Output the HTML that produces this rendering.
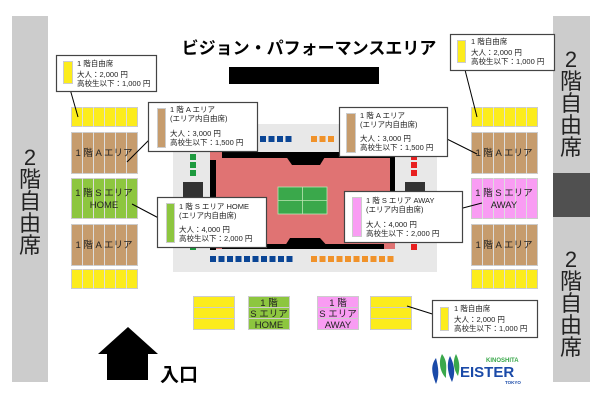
<!DOCTYPE html>
<html><head><meta charset="utf-8"><style>
html,body{margin:0;padding:0;background:#fff;width:600px;height:400px;overflow:hidden}
svg{display:block}
text{font-family:"Liberation Sans","Noto Sans CJK JP",sans-serif}
</style></head><body>
<svg width="600" height="400" viewBox="0 0 600 400" xmlns="http://www.w3.org/2000/svg" overflow="hidden">
<defs>
<g id="cols"><path d="M11 0V182M22 0V182M33 0V182M44 0V182M55 0V182" stroke="#ddd" stroke-width="1"/></g>
</defs>
<rect x="12" y="16" width="36" height="366" fill="#cccccc"/>
<rect x="553" y="16" width="37" height="366" fill="#cccccc"/>
<rect x="553" y="173" width="37" height="44" fill="#505050"/>
<g font-size="22" text-anchor="middle" fill="#222">
<text x="30" y="165">2</text><text x="30" y="187">階</text><text x="30" y="209">自</text><text x="30" y="231">由</text><text x="30" y="253">席</text>
<text x="571" y="67">2</text><text x="571" y="89">階</text><text x="571" y="111">自</text><text x="571" y="133">由</text><text x="571" y="155">席</text>
<text x="571" y="267">2</text><text x="571" y="289">階</text><text x="571" y="311">自</text><text x="571" y="333">由</text><text x="571" y="355">席</text>
</g>
<text x="309" y="54" font-size="17" font-weight="bold" text-anchor="middle" fill="#000">ビジョン・パフォーマンスエリア</text>
<rect x="229" y="67" width="150" height="17" fill="#000"/>
<g stroke="#ccc" stroke-width="1">
<rect x="71.5" y="107.5" width="66" height="19" fill="#fcec1c"/>
<rect x="71.5" y="132.5" width="66" height="41" fill="#c69c6d"/>
<rect x="71.5" y="178.5" width="66" height="40" fill="#8dc63f"/>
<rect x="71.5" y="224.5" width="66" height="41" fill="#c69c6d"/>
<rect x="71.5" y="269.5" width="66" height="19" fill="#fcec1c"/>
<rect x="471.5" y="107.5" width="66" height="19" fill="#fcec1c"/>
<rect x="471.5" y="132.5" width="66" height="41" fill="#c69c6d"/>
<rect x="471.5" y="178.5" width="66" height="40" fill="#f99cf3"/>
<rect x="471.5" y="224.5" width="66" height="41" fill="#c69c6d"/>
<rect x="471.5" y="269.5" width="66" height="19" fill="#fcec1c"/>
</g>
<use href="#cols" x="71.5" y="107"/>
<use href="#cols" x="471.5" y="107"/>
<g fill="#fff">
<rect x="71" y="127" width="67" height="5"/><rect x="71" y="174" width="67" height="4"/><rect x="71" y="219" width="67" height="5"/><rect x="71" y="266" width="67" height="3"/>
<rect x="471" y="127" width="67" height="5"/><rect x="471" y="174" width="67" height="4"/><rect x="471" y="219" width="67" height="5"/><rect x="471" y="266" width="67" height="3"/>
</g>
<g font-size="9.5" text-anchor="middle" fill="#222">
<text x="104" y="156">1 階 A エリア</text>
<text x="104" y="196">1 階 S エリア</text><text x="104" y="208">HOME</text>
<text x="104" y="248">1 階 A エリア</text>
<text x="504" y="156">1 階 A エリア</text>
<text x="504" y="196">1 階 S エリア</text><text x="504" y="208">AWAY</text>
<text x="504" y="248">1 階 A エリア</text>
</g>
<rect x="173" y="124" width="264" height="148" fill="#e8e8e8"/>
<rect x="210" y="152" width="185" height="97" fill="#e07373"/>
<rect x="222" y="152" width="173" height="6" fill="#000"/>
<rect x="210" y="160" width="6" height="90" fill="#000"/>
<rect x="390" y="158" width="5" height="80" fill="#000"/>
<rect x="222" y="244" width="162" height="5" fill="#000"/>
<polygon points="283,152 328,152 320,165 292,165" fill="#000"/>
<polygon points="290,238 320,238 330,249 283,249" fill="#000"/>
<rect x="278" y="187" width="49" height="27" fill="#3aa84b" stroke="#bde5b4" stroke-width="0.8"/>
<path d="M302.5 187V214M278 200.5H327" stroke="#bde5b4" stroke-width="0.8"/>
<rect x="183" y="182" width="20" height="20" fill="#333"/>
<rect x="405" y="182" width="20" height="20" fill="#333"/>
<g fill="#0a4595">
<rect x="260" y="136" width="6" height="6"/><rect x="268.5" y="136" width="6" height="6"/><rect x="277" y="136" width="6" height="6"/><rect x="285.5" y="136" width="6" height="6"/>
<rect x="210" y="256" width="6" height="6"/><rect x="218.5" y="256" width="6" height="6"/><rect x="227" y="256" width="6" height="6"/><rect x="235.5" y="256" width="6" height="6"/><rect x="244" y="256" width="6" height="6"/><rect x="252.5" y="256" width="6" height="6"/><rect x="261" y="256" width="6" height="6"/><rect x="269.5" y="256" width="6" height="6"/><rect x="278" y="256" width="6" height="6"/><rect x="286.5" y="256" width="6" height="6"/>
</g>
<g fill="#f0922a">
<rect x="311" y="136" width="6" height="6"/><rect x="319.5" y="136" width="6" height="6"/><rect x="328" y="136" width="6" height="6"/>
<rect x="311" y="256" width="6" height="6"/><rect x="319.5" y="256" width="6" height="6"/><rect x="328" y="256" width="6" height="6"/><rect x="336.5" y="256" width="6" height="6"/><rect x="345" y="256" width="6" height="6"/><rect x="353.5" y="256" width="6" height="6"/><rect x="362" y="256" width="6" height="6"/><rect x="370.5" y="256" width="6" height="6"/><rect x="379" y="256" width="6" height="6"/><rect x="387.5" y="256" width="6" height="6"/>
</g>
<g fill="#1e9a3e"><rect x="190" y="154" width="6" height="6"/><rect x="190" y="162" width="6" height="6"/><rect x="190" y="170" width="6" height="6"/><rect x="190" y="244" width="6" height="6"/></g>
<g fill="#e82020"><rect x="411" y="154" width="6" height="6"/><rect x="411" y="162" width="6" height="6"/><rect x="411" y="170" width="6" height="6"/><rect x="411" y="244" width="6" height="6"/></g>
<g stroke="#ccc" stroke-width="1">
<rect x="193.5" y="296.5" width="41" height="11" fill="#fcec1c"/><rect x="193.5" y="307.5" width="41" height="11" fill="#fcec1c"/><rect x="193.5" y="318.5" width="41" height="11" fill="#fcec1c"/>
<rect x="248.5" y="296.5" width="41" height="11" fill="#8dc63f"/><rect x="248.5" y="307.5" width="41" height="11" fill="#8dc63f"/><rect x="248.5" y="318.5" width="41" height="11" fill="#8dc63f"/>
<rect x="317.5" y="296.5" width="41" height="11" fill="#f99cf3"/><rect x="317.5" y="307.5" width="41" height="11" fill="#f99cf3"/><rect x="317.5" y="318.5" width="41" height="11" fill="#f99cf3"/>
<rect x="370.5" y="296.5" width="41" height="11" fill="#fcec1c"/><rect x="370.5" y="307.5" width="41" height="11" fill="#fcec1c"/><rect x="370.5" y="318.5" width="41" height="11" fill="#fcec1c"/>
</g>
<g font-size="9.5" text-anchor="middle" fill="#222">
<text x="269" y="306">1 階</text><text x="269" y="317">S エリア</text><text x="269" y="328">HOME</text>
<text x="338" y="306">1 階</text><text x="338" y="317">S エリア</text><text x="338" y="328">AWAY</text>
</g>
<polygon points="128,327 158,354 148,354 148,380 107,380 107,354 98,354" fill="#000"/>
<text x="160" y="381" font-size="19" font-weight="bold" fill="#000">入口</text>
<g stroke="#000" stroke-width="1">
<line x1="68" y1="82" x2="78" y2="117"/>
<line x1="161" y1="128" x2="127" y2="162"/>
<line x1="132" y1="204" x2="170" y2="224"/>
<line x1="423" y1="127" x2="477" y2="154"/>
<line x1="440" y1="214" x2="482" y2="203"/>
<line x1="463" y1="62" x2="477" y2="117"/>
<line x1="407" y1="306" x2="445" y2="318"/>
</g>
<g stroke="#444" stroke-width="1.2" fill="#fff">
<rect x="56.5" y="55.5" width="100" height="36"/>
<rect x="148.5" y="102.5" width="109" height="49"/>
<rect x="157.5" y="197.5" width="109" height="50"/>
<rect x="339.5" y="107.5" width="108" height="49"/>
<rect x="344.5" y="191.5" width="118" height="51"/>
<rect x="450.5" y="34.5" width="104" height="36"/>
<rect x="432.5" y="300.5" width="105" height="37"/>
</g>
<g stroke="#ccc" stroke-width="1">
<rect x="63.5" y="61.5" width="9" height="22" fill="#fcec1c"/>
<rect x="157.5" y="108.5" width="8" height="39" fill="#c69c6d"/>
<rect x="166.5" y="203.5" width="8" height="39" fill="#8dc63f"/>
<rect x="346.5" y="113.5" width="9" height="39" fill="#c69c6d"/>
<rect x="352.5" y="197.5" width="9" height="39" fill="#f99cf3"/>
<rect x="457.5" y="40.5" width="8" height="22" fill="#fcec1c"/>
<rect x="440.5" y="307.5" width="8" height="23" fill="#fcec1c"/>
</g>
<g font-size="7.5" fill="#222">
<text x="77" y="66">1 階自由席</text><text x="77" y="77">大人：2,000 円</text><text x="77" y="86">高校生以下：1,000 円</text>
<text x="170" y="112">1 階 A エリア</text><text x="170" y="121">(エリア内自由席)</text><text x="170" y="136">大人：3,000 円</text><text x="170" y="145">高校生以下：1,500 円</text>
<text x="179" y="209">1 階 S エリア HOME</text><text x="179" y="218">(エリア内自由席)</text><text x="179" y="232">大人：4,000 円</text><text x="179" y="241">高校生以下：2,000 円</text>
<text x="360" y="118">1 階 A エリア</text><text x="360" y="127">(エリア内自由席)</text><text x="360" y="141">大人：3,000 円</text><text x="360" y="150">高校生以下：1,500 円</text>
<text x="366" y="203">1 階 S エリア AWAY</text><text x="366" y="212">(エリア内自由席)</text><text x="366" y="227">大人：4,000 円</text><text x="366" y="236">高校生以下：2,000 円</text>
<text x="471" y="44">1 階自由席</text><text x="471" y="55">大人：2,000 円</text><text x="471" y="64">高校生以下：1,000 円</text>
<text x="454" y="311">1 階自由席</text><text x="454" y="322">大人：2,000 円</text><text x="454" y="331">高校生以下：1,000 円</text>
</g>
<path d="M436 358 C430 366 432 374 436 384 C440 374 438 366 436 358Z" fill="#1a4aa8"/>
<path d="M442 354 C438 362 440 372 446 378 C446 368 448 362 442 354Z" fill="#3aa84b"/>
<path d="M450 356 C446 364 448 374 452 382 C456 372 454 364 450 356Z" fill="#1a4aa8"/>
<path d="M456 354 C452 362 454 370 458 376 C460 368 460 362 456 354Z" fill="#3aa84b"/>
<text x="486" y="362" font-size="6" font-weight="bold" fill="#3aa84b">KINOSHITA</text>
<text x="460" y="377" font-size="15" font-weight="bold" fill="#1a4aa8">EISTER</text>
<text x="505" y="384" font-size="4.5" font-weight="bold" fill="#1a4aa8">TOKYO</text>
</svg>
</body></html>
